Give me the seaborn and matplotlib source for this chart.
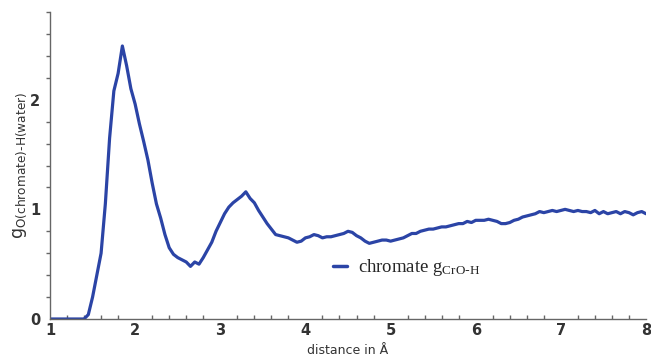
import numpy as np
import pandas as pd
import matplotlib
matplotlib.use("Agg")
import matplotlib.pyplot as plt
from matplotlib.ticker import MultipleLocator
import seaborn as sns

# distance (Å) and g(r) values
distance = [round(1.0 + 0.05 * i, 2) for i in range(141)]
g_values = [
    0.00, 0.00, 0.00, 0.00, 0.00, 0.00, 0.00, 0.00,           # 1.00-1.35
    0.00, 0.04, 0.20, 0.40, 0.60, 1.05, 1.65, 2.08,           # 1.40-1.75
    2.24, 2.49, 2.31, 2.10, 1.96, 1.78, 1.62, 1.45,           # 1.80-2.15
    1.24, 1.05, 0.92, 0.77, 0.65, 0.59, 0.56, 0.54,           # 2.20-2.55
    0.52, 0.48, 0.52, 0.50, 0.56, 0.63, 0.70, 0.80,           # 2.60-2.95
    0.88, 0.96, 1.02, 1.06, 1.09, 1.12, 1.16, 1.10,           # 3.00-3.35
    1.06, 0.99, 0.93, 0.87, 0.82, 0.77, 0.76, 0.75,           # 3.40-3.75
    0.74, 0.72, 0.70, 0.71, 0.74, 0.75, 0.77, 0.76,           # 3.80-4.15
    0.74, 0.75, 0.75, 0.76, 0.77, 0.78, 0.80, 0.79,           # 4.20-4.55
    0.76, 0.74, 0.71, 0.69, 0.70, 0.71, 0.72, 0.72,           # 4.60-4.95
    0.71, 0.72, 0.73, 0.74, 0.76, 0.78, 0.78, 0.80,           # 5.00-5.35
    0.81, 0.82, 0.82, 0.83, 0.84, 0.84, 0.85, 0.86,           # 5.40-5.75
    0.87, 0.87, 0.89, 0.88, 0.90, 0.90, 0.90, 0.91,           # 5.80-6.15
    0.90, 0.89, 0.87, 0.87, 0.88, 0.90, 0.91, 0.93,           # 6.20-6.55
    0.94, 0.95, 0.96, 0.98, 0.97, 0.98, 0.99, 0.98,           # 6.60-6.95
    0.99, 1.00, 0.99, 0.98, 0.99, 0.98, 0.98, 0.97,           # 7.00-7.35
    0.99, 0.96, 0.98, 0.96, 0.97, 0.98, 0.96, 0.98,           # 7.40-7.75
    0.97, 0.95, 0.97, 0.98, 0.96,                             # 7.80-8.00
]
series_label = r"chromate $\mathregular{g_{CrO\text{-}H}}$"
x_ticks = [1, 2, 3, 4, 5, 6, 7, 8]
y_ticks = [0, 1, 2]

df = pd.DataFrame({"distance": distance, "g": g_values})

sns.set_style("white")
plt.rcParams["font.family"] = ["DejaVu Sans"]

fig = plt.figure(figsize=(6.51, 3.60), dpi=100)
ax = fig.add_axes([50 / 651, 1 - 319 / 360, 596 / 651, 307 / 360])

sns.lineplot(data=df, x="distance", y="g", ax=ax, color="#2b44a6",
             linewidth=2.3, label=series_label)

ax.set_xlim(1, 8)
ax.set_ylim(0, 2.8)
ax.set_xticks(x_ticks)
ax.set_yticks(y_ticks)
ax.xaxis.set_minor_locator(MultipleLocator(0.2))
ax.yaxis.set_minor_locator(MultipleLocator(0.2))

for side in ["top", "right"]:
    ax.spines[side].set_visible(False)
for side in ["left", "bottom"]:
    ax.spines[side].set_color("#666666")
    ax.spines[side].set_linewidth(1.0)

ax.tick_params(axis="x", which="major", direction="in", length=6, width=1,
               color="#666666", labelsize=10.5, labelcolor="#333333", pad=3)
ax.tick_params(axis="x", which="minor", direction="in", length=3, width=1,
               color="#666666", bottom=True)
ax.tick_params(axis="y", which="major", direction="out", length=5, width=1,
               color="#666666", labelsize=10.5, labelcolor="#333333", pad=2)
ax.tick_params(axis="y", which="minor", direction="out", length=3, width=1,
               color="#666666", left=True)
for lab in ax.get_xticklabels() + ax.get_yticklabels():
    lab.set_fontweight("bold")

ax.set_xlabel("distance in Å", fontsize=9, color="#333333", labelpad=4)
ax.set_ylabel(r"$\mathregular{g_{O(chromate)\text{-}H(water)}}$",
              fontsize=12.5, color="#333333", labelpad=1)

leg = ax.legend(loc="center left", bbox_to_anchor=(333 / 651, 1 - 268 / 360),
                bbox_transform=fig.transFigure, frameon=False,
                prop={"family": "Liberation Serif", "size": 13.5},
                handlelength=0.75, handletextpad=0.6,
                borderpad=0, borderaxespad=0)
for line in leg.get_lines():
    line.set_linewidth(2.5)

fig.savefig("out.png", dpi=100)
